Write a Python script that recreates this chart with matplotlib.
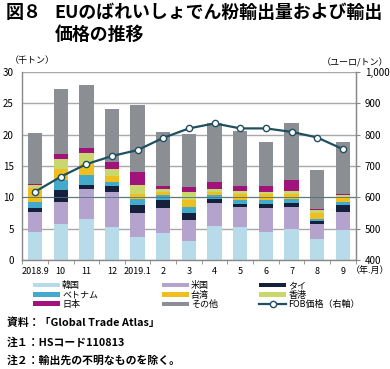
import matplotlib
matplotlib.use("Agg")
import matplotlib.pyplot as plt
from matplotlib.patches import Patch
from matplotlib.lines import Line2D
import numpy as np

plt.rcParams['font.family'] = ['Noto Sans CJK JP', 'DejaVu Sans']

months = ["2018.9", "10", "11", "12", "2019.1", "2", "3", "4", "5", "6", "7", "8", "9"]

# export volume by destination (thousand tonnes)
korea   = [4.5, 5.75, 6.5, 5.3, 3.7, 4.4, 3.0, 5.4, 5.3, 4.5, 4.9, 3.35, 4.8]
usa     = [3.1, 3.55, 4.8, 5.6, 3.85, 3.85, 3.4, 3.75, 3.1, 3.85, 3.6, 2.4, 2.9]
thai    = [0.7, 1.9, 0.75, 0.95, 1.25, 1.3, 1.15, 0.55, 0.5, 0.55, 0.55, 0.45, 1.05]
vietnam = [0.9, 1.55, 1.5, 0.65, 0.9, 0.8, 0.95, 0.65, 0.65, 0.65, 0.65, 0.3, 0.55]
taiwan  = [2.3, 1.85, 1.85, 0.9, 0.9, 0.55, 1.05, 0.55, 0.95, 0.95, 0.8, 1.05, 0.7]
hongkong = [0.5, 1.45, 1.7, 1.1, 1.45, 0.4, 1.35, 0.5, 0.55, 0.3, 0.55, 0.4, 0.4]
japan   = [0.15, 0.95, 0.7, 1.2, 2.05, 0.5, 0.7, 1.1, 0.75, 1.0, 1.8, 0.15, 0.2]
others  = [8.1, 10.3, 10.2, 8.4, 10.6, 8.7, 8.5, 9.3, 8.8, 7.0, 8.95, 6.35, 8.3]

# FOB price (euro/tonne, right axis)
fob = [618, 666, 706, 732, 751, 790, 820, 836, 820, 820, 809, 791, 754]

series = [
    ("韓国", korea, "#b7dbe8"),
    ("米国", usa, "#b4a3cd"),
    ("タイ", thai, "#15213c"),
    ("ベトナム", vietnam, "#43aacb"),
    ("台湾", taiwan, "#efbf1f"),
    ("香港", hongkong, "#cad76c"),
    ("日本", japan, "#a1127b"),
    ("その他", others, "#8b8e92"),
]
line_color = "#1f4f60"

fig = plt.figure(figsize=(3.9, 3.69), dpi=100)
ax = fig.add_axes([0.057, 0.295, 0.855, 0.51])

x = np.arange(len(months))
bottom = np.zeros(len(months))
for name, vals, col in series:
    ax.bar(x, vals, 0.56, bottom=bottom, color=col, zorder=2)
    bottom += np.array(vals)

ax.set_ylim(0, 30)
ax.set_xlim(-0.5, len(months) - 0.5)
ax.set_yticks(range(0, 31, 5))
ax.yaxis.grid(True, color="#a8a8a8", linewidth=1.0, zorder=0)
ax.set_axisbelow(True)
ax.axhline(10, color="#4e6f7c", linewidth=0.6, zorder=3)
ax.tick_params(axis="y", length=0, labelsize=7, pad=6)
ax.set_xticks(x)
ax.set_xticklabels(months, fontsize=6.5)
ax.set_xticks(np.arange(-0.5, len(months)), minor=True)
ax.tick_params(axis="x", which="major", length=0, pad=5)
ax.tick_params(axis="x", which="minor", length=3, color="#888888")
ax.spines["top"].set_visible(False)
for s in ["left", "right", "bottom"]:
    ax.spines[s].set_color("#888888")
    ax.spines[s].set_linewidth(1.0)

ax2 = ax.twinx()
ax2.plot(x, fob, color=line_color, linewidth=1.6, marker="o", markersize=4.5,
         markerfacecolor="white", markeredgecolor=line_color, markeredgewidth=1.0, zorder=5)
ax2.set_ylim(400, 1000)
ax2.set_yticks(range(400, 1001, 100))
ax2.set_yticklabels(["400", "500", "600", "700", "800", "900", "1,000"])
ax2.tick_params(axis="y", length=3, labelsize=7, color="#888888")
for s in ["top", "left", "bottom"]:
    ax2.spines[s].set_visible(False)
ax2.spines["right"].set_color("#888888")

# axis unit labels
fig.text(0.025, 0.835, "（千トン）", fontsize=6.5, ha="left", va="center")
fig.text(0.995, 0.83, "（ユーロ/トン）", fontsize=6.5, ha="right", va="center")
fig.text(0.998, 0.268, "（年.月）", fontsize=6.5, ha="right", va="center")

# title
fig.text(0.015, 0.965, "図８", fontsize=13, fontweight="bold", ha="left", va="center")
fig.text(0.14, 0.965, "EUのばれいしょでん粉輸出量および輸出", fontsize=12.9,
         fontweight="bold", ha="left", va="center")
fig.text(0.14, 0.905, "価格の推移", fontsize=12.9, fontweight="bold", ha="left", va="center")

# legend in three columns
handles = {}
for name, vals, col in series:
    handles[name] = Patch(facecolor=col, label=name)
handles["FOB価格（右軸）"] = Line2D([], [], color=line_color, linewidth=1.6, marker="o",
                                 markersize=4.5, markerfacecolor="white",
                                 markeredgecolor=line_color, label="FOB価格（右軸）")
cols = [["韓国", "ベトナム", "日本"], ["米国", "台湾", "その他"], ["タイ", "香港", "FOB価格（右軸）"]]
xs = [0.085, 0.415, 0.665]
for cx, names in zip(xs, cols):
    fig.legend(handles=[handles[n] for n in names], loc="upper left",
               bbox_to_anchor=(cx, 0.238), frameon=False, fontsize=6.5,
               handlelength=3.0, handleheight=0.45, handletextpad=0.2,
               labelspacing=0.05, borderpad=0, borderaxespad=0)

# notes
fig.text(0.018, 0.125, "資料：「Global Trade Atlas」", fontsize=7.8, fontweight="bold", ha="left", va="center")
fig.text(0.018, 0.072, "注１：HSコード110813", fontsize=7.8, fontweight="bold", ha="left", va="center")
fig.text(0.018, 0.022, "注２：輸出先の不明なものを除く。", fontsize=7.8, fontweight="bold", ha="left", va="center")

fig.savefig("out.png", dpi=100)
